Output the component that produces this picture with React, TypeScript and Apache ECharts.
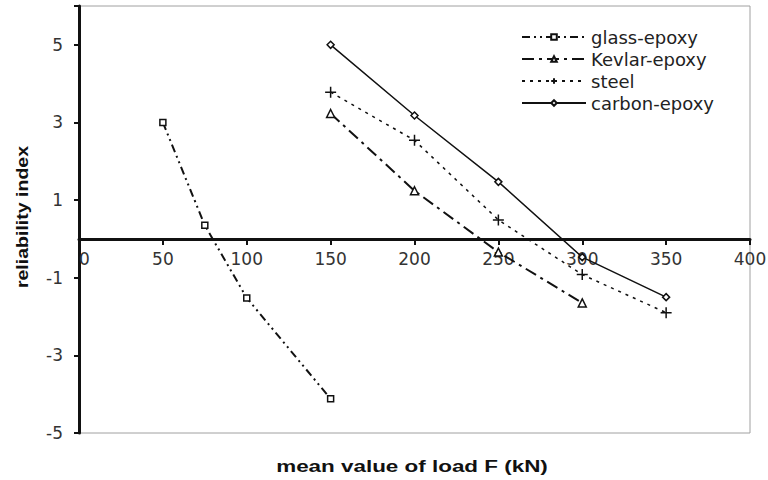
import React, { useEffect, useRef } from "react";
import * as echarts from "echarts";

const glassX = [50, 75, 100, 150];
const glassY = [3.0, 0.35, -1.52, -4.12];
const kevlarX = [150, 200, 250, 300];
const kevlarY = [3.23, 1.24, -0.34, -1.65];
const steelX = [150, 200, 250, 300, 350];
const steelY = [3.78, 2.54, 0.49, -0.92, -1.9];
const carbonX = [150, 200, 250, 300, 350];
const carbonY = [5.0, 3.18, 1.47, -0.47, -1.5];

const pair = (xs: number[], ys: number[]) => xs.map((x, i) => [x, ys[i]]);

const PLUS = "path://M0,5L10,5M5,0L5,10";

const GRID_TOP = 6;
const GRID_BOTTOM = 47;
const Y_MIN = -5;
const Y_MAX = 6;

export default function App() {
  const ref = useRef<HTMLDivElement>(null);
  useEffect(() => {
    if (!ref.current) return;
    const chart = echarts.init(ref.current, null, { renderer: "svg" });
    const font = "DejaVu Sans, Liberation Sans, Arial, sans-serif";
    const gridH = 480 - GRID_TOP - GRID_BOTTOM;
    const zeroFromBottom = (gridH * (0 - Y_MIN)) / (Y_MAX - Y_MIN);
    chart.setOption({
      animation: false,
      backgroundColor: "#fff",
      textStyle: { fontFamily: font },
      grid: {
        left: 79,
        right: 18,
        top: GRID_TOP,
        bottom: GRID_BOTTOM,
        show: true,
        borderColor: "#a0a0a0",
        borderWidth: 1,
        containLabel: false,
        outerBoundsMode: "none",
      },
      graphic: [
        {
          type: "text",
          x: 412,
          y: 466,
          scaleX: 1.32,
          style: {
            text: "mean value of load F (kN)",
            font: "bold 17px Liberation Sans, Arial, sans-serif",
            fill: "#111",
            align: "center",
            verticalAlign: "middle",
          },
          z: 10,
        },
        {
          type: "text",
          x: 22,
          y: 217,
          rotation: Math.PI / 2,
          scaleX: 1.15,
          style: {
            text: "reliability index",
            font: "bold 17px Liberation Sans, Arial, sans-serif",
            fill: "#111",
            align: "center",
            verticalAlign: "middle",
          },
          z: 10,
        },
      ],
      legend: {
        orient: "vertical",
        left: 516,
        top: 23,
        itemWidth: 64,
        itemHeight: 7,
        itemGap: 4,
        textStyle: { fontSize: 18, color: "#222", fontFamily: font },
        data: ["glass-epoxy", "Kevlar-epoxy", "steel", "carbon-epoxy"],
      },
      xAxis: {
        type: "value",
        min: 0,
        max: 400,
        interval: 50,
        position: "bottom",
        offset: -zeroFromBottom,
        axisLine: { onZero: false, lineStyle: { color: "#111", width: 3 } },
        axisTick: { show: true, length: 6, lineStyle: { color: "#111", width: 2 } },
        axisLabel: { fontSize: 17, color: "#333", margin: 12, alignMinLabel: "left" },
        splitLine: { show: false },
      },
      yAxis: {
        type: "value",
        min: Y_MIN,
        max: Y_MAX,
        interval: 2,
        axisLine: { onZero: false, lineStyle: { color: "#111", width: 3 } },
        axisTick: { show: true, length: 5, lineStyle: { color: "#111", width: 2 } },
        axisLabel: {
          fontSize: 17,
          color: "#333",
          margin: 16,
          formatter: (v: number) => (v === 6 ? "" : String(v)),
        },
        splitLine: { show: false },
      },
      series: [
        {
          name: "glass-epoxy",
          type: "line",
          data: pair(glassX, glassY),
          symbol: "rect",
          symbolSize: 6,
          itemStyle: { color: "#fff", borderColor: "#111", borderWidth: 1.5 },
          lineStyle: { color: "#111", width: 2, type: [8, 4, 2, 4, 2, 4] },
        },
        {
          name: "Kevlar-epoxy",
          type: "line",
          data: pair(kevlarX, kevlarY),
          symbol: "triangle",
          symbolSize: 8,
          itemStyle: { color: "#fff", borderColor: "#111", borderWidth: 1.5 },
          lineStyle: { color: "#111", width: 2, type: [12, 5, 3, 5] },
        },
        {
          name: "steel",
          type: "line",
          data: pair(steelX, steelY),
          symbol: PLUS,
          symbolSize: 11,
          itemStyle: { color: "#111", borderColor: "#111", borderWidth: 1.5 },
          lineStyle: { color: "#111", width: 1.5, type: [3, 5] },
        },
        {
          name: "carbon-epoxy",
          type: "line",
          data: pair(carbonX, carbonY),
          symbol: "diamond",
          symbolSize: 7,
          itemStyle: { color: "#fff", borderColor: "#111", borderWidth: 1.5 },
          lineStyle: { color: "#111", width: 1.5, type: "solid" },
        },
      ],
    });
    return () => chart.dispose();
  }, []);
  return <div ref={ref} style={{ width: 768, height: 480, position: "absolute", left: 0, top: 0 }} />;
}
